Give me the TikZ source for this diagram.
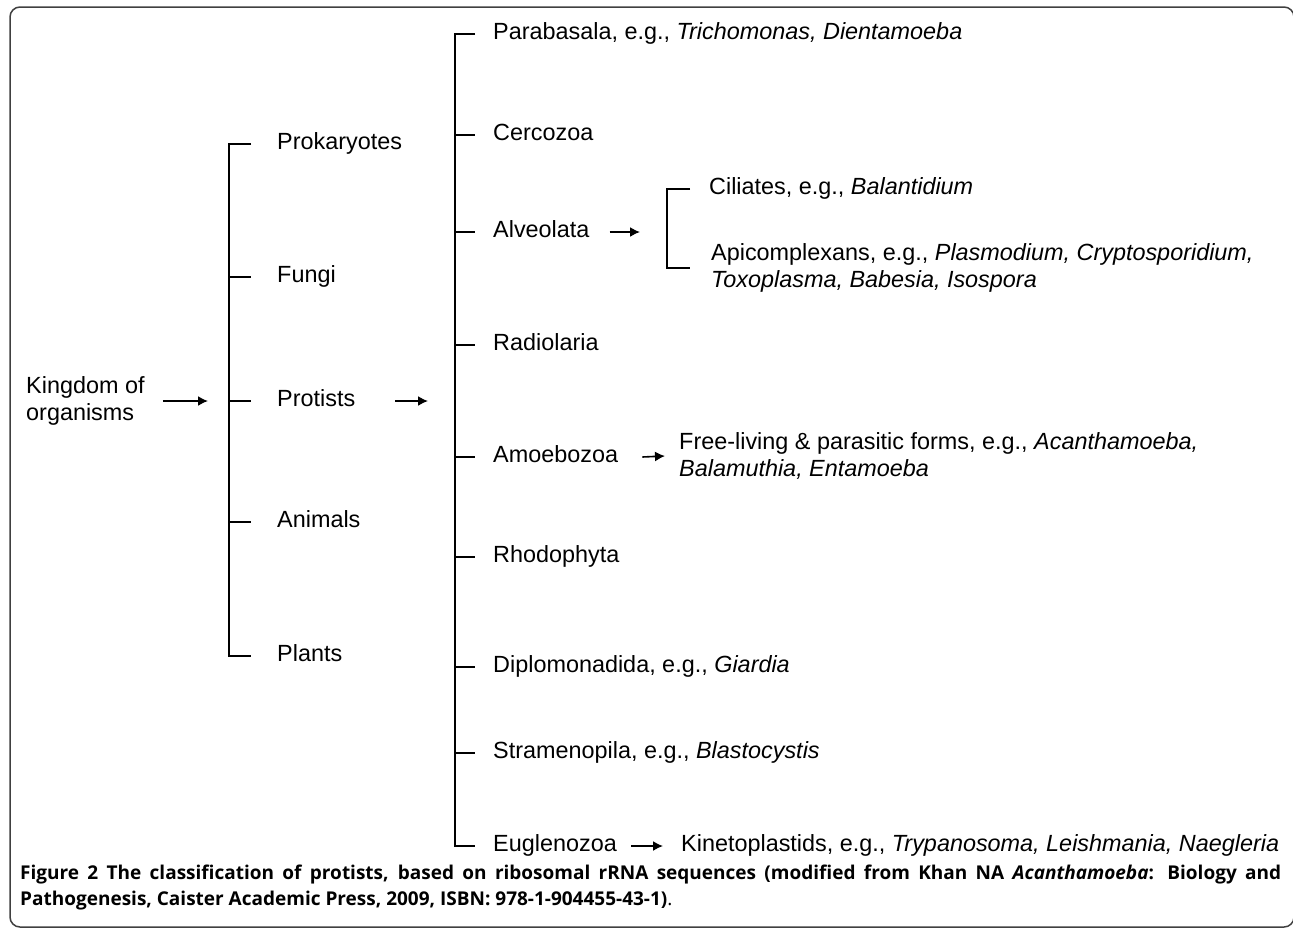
\documentclass[tikz,border=0pt]{standalone}
\usepackage{fontspec}
\setmainfont{Liberation Sans}
\newfontfamily\capfont{Open Sans}
\usetikzlibrary{arrows.meta}

\tikzset{
  taxon/.style = {anchor=west, inner sep=0pt, text height=16pt, text depth=5pt,
                  font=\fontsize{23.4}{27}\selectfont},
  twoline/.style = {anchor=west, inner sep=0pt, align=left,
                    font=\fontsize{23.4}{27}\selectfont},
  branch/.style = {line width=2pt},
  pointer/.style = {line width=1.6pt, -{Latex[length=10pt,width=10pt]}},
  caption/.style = {anchor=base west, inner sep=0pt,
                    font=\capfont\fontsize{19}{26}\selectfont},
}

\begin{document}
\begin{tikzpicture}[x=1pt, y=-1pt]
    \useasboundingbox (0,0) rectangle (1293,930);
    % Frame
    \draw[line width=1.5pt, black!75, rounded corners=10pt] (10,7) rectangle (1294,927);

    % Spines
    \coordinate (s1) at (229,0);
    \coordinate (s2) at (455,0);
    \coordinate (s3) at (667,0);

    % Kingdoms
    \node[twoline] (king) at (26,401) {Kingdom of\\organisms};
    \node[taxon] (prok)  at (277,144) {Prokaryotes};
    \node[taxon] (fungi) at (277,277) {Fungi};
    \node[taxon] (prot)  at (277,401) {Protists};
    \node[taxon] (anim)  at (277,522) {Animals};
    \node[taxon] (plant) at (277,656) {Plants};

    % Protist groups
    \node[taxon] (para) at (493,34)  {Parabasala, e.g., \textit{Trichomonas, Dientamoeba}};
    \node[taxon] (cerc) at (493,135) {Cercozoa};
    \node[taxon] (alv)  at (493,232) {Alveolata};
    \node[taxon] (rad)  at (493,345) {Radiolaria};
    \node[taxon] (amo)  at (493,457) {Amoebozoa};
    \node[taxon] (rho)  at (493,557) {Rhodophyta};
    \node[taxon] (dip)  at (493,667) {Diplomonadida, e.g., \textit{Giardia}};
    \node[taxon] (stra) at (493,753) {Stramenopila, e.g., \textit{Blastocystis}};
    \node[taxon] (eug)  at (493,846) {Euglenozoa};

    % Subgroups
    \node[taxon] (cil) at (709,189) {Ciliates, e.g., \textit{Balantidium}};
    \node[twoline] (api) at (711,268) {Apicomplexans, e.g., \textit{Plasmodium, Cryptosporidium,}\\\textit{Toxoplasma, Babesia, Isospora}};
    \node[twoline] (free) at (679,456) {Free-living \& parasitic forms, e.g., \textit{Acanthamoeba,}\\\textit{Balamuthia, Entamoeba}};
    \node[taxon] (kin) at (681,846) {Kinetoplastids, e.g., \textit{Trypanosoma, Leishmania, Naegleria}};

    % Brackets
    \draw[branch] (prok.west -| s1) ++(22,0) -- (prok.west -| s1) -- (plant.west -| s1) -- ++(22,0);
    \foreach \n in {fungi,prot,anim} \draw[branch] (\n.west -| s1) -- ++(22,0);

    \draw[branch] (para.west -| s2) ++(20,0) -- (para.west -| s2) -- (eug.west -| s2) -- ++(20,0);
    \foreach \n in {cerc,alv,rad,amo,rho,dip,stra} \draw[branch] (\n.west -| s2) -- ++(20,0);

    \draw[branch] (cil.west -| s3) ++(23,0) -- (cil.west -| s3) -- (api.west -| s3) -- ++(23,0);

    % Arrows
    \draw[pointer] ([xshift=18pt]king.east) -- ([xshift=-21pt]king.east -| s1);
    \draw[pointer] ([xshift=40pt]prot.east) -- ([xshift=-27pt]prot.east -| s2);
    \draw[pointer] ([xshift=20pt]alv.east) -- ([xshift=-27pt]alv.east -| s3);
    \draw[pointer] ([xshift=24pt]amo.east) -- ([xshift=-14pt]free.west);
    \draw[pointer] ([xshift=14pt]eug.east) -- ([xshift=-18pt]kin.west);

    % Caption
    \node[caption] (cap1) at (20,879) {\makebox[1261pt][s]{\bfseries Figure 2 The classification of protists, based on ribosomal rRNA sequences (modified from Khan NA \textit{Acanthamoeba}: Biology and}};
    \node[caption] (cap2) at (20,905) {\textbf{Pathogenesis, Caister Academic Press, 2009, ISBN: 978-1-904455-43-1)}.};
\end{tikzpicture}
\end{document}
